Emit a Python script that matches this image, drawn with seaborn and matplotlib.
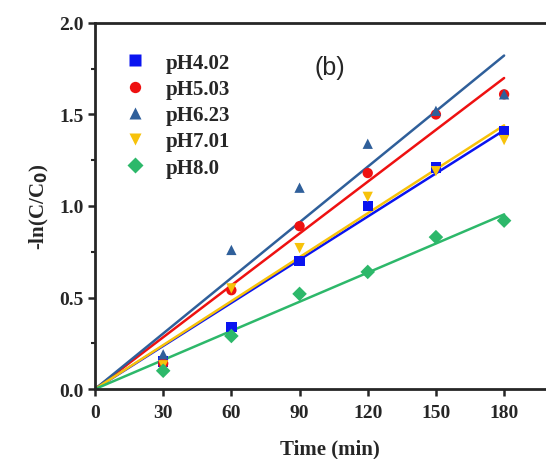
import numpy as np
import pandas as pd
import matplotlib
matplotlib.use("Agg")
import matplotlib.pyplot as plt
import seaborn as sns

# ---- data ----
time_min = [30, 60, 90, 120, 150, 180]
labels = ["pH4.02", "pH5.03", "pH6.23", "pH7.01", "pH8.0"]
ph402 = [0.15, 0.34, 0.70, 1.00, 1.21, 1.41]
ph503 = [0.14, 0.54, 0.89, 1.18, 1.50, 1.61]
ph623 = [0.19, 0.76, 1.10, 1.34, 1.52, 1.61]
ph701 = [0.13, 0.55, 0.77, 1.05, 1.19, 1.36]
ph80 = [0.10, 0.29, 0.52, 0.64, 0.83, 0.92]

colors = ["#0a14f0", "#ee1111", "#2f5f9a", "#f7c20a", "#2db86a"]
markers = ["s", "o", "^", "v", "D"]

series = [ph402, ph503, ph623, ph701, ph80]
df = pd.DataFrame({
    "t": np.tile(time_min, len(labels)),
    "y": np.concatenate(series),
    "pH": np.repeat(labels, len(time_min)),
})

sns.set_style("ticks")
plt.rcParams["font.family"] = ["Liberation Serif", "DejaVu Serif"]
plt.rcParams["font.weight"] = "bold"

fig = plt.figure(figsize=(5.46, 4.60), dpi=100)
# right spine falls outside the canvas, as in the reference
ax = fig.add_axes([0.174, 0.152, 0.86, 0.796])

# first-order fits through the origin
t = np.array(time_min, dtype=float)
tline = np.array([0, 180.0])
for lab, vals, c in zip(labels, series, colors):
    k = np.sum(t * np.array(vals)) / np.sum(t * t)
    sns.lineplot(x=tline, y=k * tline, color=c, lw=1.8, ax=ax, legend=False, zorder=2)

sns.scatterplot(data=df, x="t", y="y", hue="pH", style="pH",
                palette=dict(zip(labels, colors)), markers=dict(zip(labels, markers)),
                s=55, edgecolor="none", ax=ax, zorder=3)

ax.set_xlim(0, 206.6)
ax.set_ylim(0, 2.0)
ax.set_xticks([0, 30, 60, 90, 120, 150, 180])
ax.set_yticks([0.0, 0.5, 1.0, 1.5, 2.0])
ax.set_yticks([0.25, 0.75, 1.25, 1.75], minor=True)
ax.set_yticklabels(["0.0", "0.5", "1.0", "1.5", "2.0"])
ax.tick_params(axis="both", which="major", direction="out", length=5, width=1.8,
               labelsize=14, pad=3)
ax.tick_params(axis="x", which="major", pad=6)
ax.tick_params(axis="y", which="minor", direction="out", length=3, width=1.5)
for s in ax.spines.values():
    s.set_linewidth(2)
    s.set_visible(True)

ax.set_xlabel("Time (min)", fontsize=15, fontweight="bold", labelpad=12)
ax.set_ylabel("-ln(C/C$_\\mathbf{0}$)", fontsize=15, fontweight="bold", labelpad=6)

ax.text(0.50, 0.88, "(b)", transform=ax.transAxes, fontsize=18,
        family="Liberation Sans", fontweight="normal", ha="center", va="center")

leg = ax.legend(loc="upper left", bbox_to_anchor=(0.0, 0.97), frameon=False,
                fontsize=15, handletextpad=0.5, labelspacing=0.3, markerscale=1.1)
for txt in leg.get_texts():
    txt.set_fontweight("bold")

fig.savefig("out.png", dpi=100)
